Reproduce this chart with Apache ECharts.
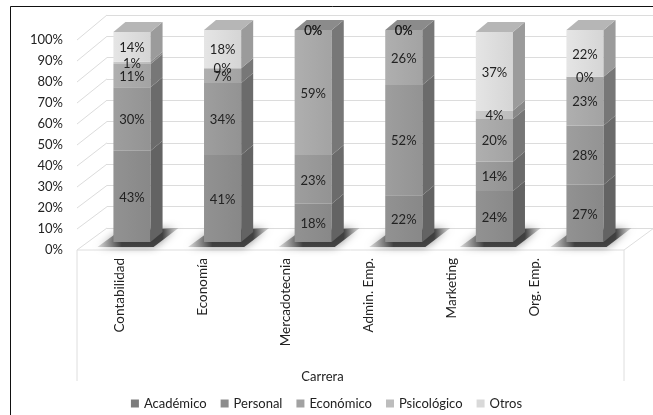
<!DOCTYPE html>
<html><head><meta charset="utf-8">
<script src="https://cdn.jsdelivr.net/npm/echarts@6/dist/echarts.min.js"></script>
<style>html,body{margin:0;padding:0;background:#fff}#c{width:653px;height:415px}</style>
</head><body><div id="c"></div>
<script>
const categories = ['Contabilidad', 'Economía', 'Mercadotecnia', 'Admin. Emp.', 'Marketing', 'Org. Emp.'];
const academico   = [43, 41, 18, 22, 24, 27];
const personal    = [30, 34, 23, 52, 14, 28];
const economico   = [11, 7, 59, 26, 20, 23];
const psicologico = [1, 0, 0, 0, 4, 0];
const otros       = [14, 18, 0, 0, 37, 22];
const seriesNames = ['Académico', 'Personal', 'Económico', 'Psicológico', 'Otros'];
const yTicks = [0, 10, 20, 30, 40, 50, 60, 70, 80, 90, 100];
const xTitle = 'Carrera';

const seriesValues = [academico, personal, economico, psicologico, otros];
const colors = ['#8e8e8e', '#999999', '#aaaaaa', '#c4c4c4', '#dedede'];
const legendColors = ['#7c7c7c', '#8c8c8c', '#a2a2a2', '#bdbdbd', '#d9d9d9'];
const FONT = 'Lato';
const DX = 12, DY = 10;

function shade(hex, f) {
  const n = parseInt(hex.slice(1), 16);
  const cl = x => Math.max(0, Math.min(255, Math.round(x)));
  const r = cl(((n >> 16) & 255) * f), g = cl(((n >> 8) & 255) * f), b = cl((n & 255) * f);
  return 'rgb(' + r + ',' + g + ',' + b + ')';
}

// stacked data [categoryIndex, base, value]
const stacked = seriesValues.map((vals, si) => vals.map((v, ci) => {
  let base = 0;
  for (let k = 0; k < si; k++) base += seriesValues[k][ci];
  return [ci, base, v];
}));
function topSeries(ci) {
  let t = 0;
  seriesValues.forEach((vals, si) => { if (vals[ci] > 0) t = si; });
  return t;
}

function makeRender(si) {
  return function (params, api) {
    const ci = api.value(0), base = api.value(1), val = api.value(2);
    const pB = api.coord([ci, base]);
    const pT = api.coord([ci, base + val]);
    const bw = api.size([1, 0])[0] * 0.41;
    const x0 = pB[0] - bw / 2, x1 = pB[0] + bw / 2;
    const yb = pB[1], yt = pT[1];
    const c = colors[si];
    const children = [];
    if (si === 0) {
      children.push({
        type: 'polygon',
        shape: { points: [[x0 - 16, yb + 5], [x0 + 6, yb - 11], [x1 + DX + 16, yb - 14], [x1 + 3, yb + 5]] },
        style: {
          fill: new echarts.graphic.LinearGradient(0, 0, 1, 0, [
            { offset: 0, color: 'rgba(120,120,120,0.25)' },
            { offset: 0.3, color: 'rgba(45,45,45,0.85)' },
            { offset: 0.8, color: 'rgba(45,45,45,0.85)' },
            { offset: 1, color: 'rgba(120,120,120,0.25)' }
          ]),
          shadowBlur: 8, shadowColor: 'rgba(0,0,0,0.5)'
        }
      });
    }
    if (val > 0) {
      children.push({
        type: 'rect', shape: { x: x0, y: yt, width: x1 - x0, height: yb - yt },
        style: {
          fill: new echarts.graphic.LinearGradient(0, 0, 1, 0, [
            { offset: 0, color: shade(c, 1.03) }, { offset: 1, color: shade(c, 0.96) }
          ])
        }
      });
      children.push({
        type: 'polygon',
        shape: { points: [[x1, yt], [x1 + DX, yt - DY], [x1 + DX, yb - DY], [x1, yb]] },
        style: { fill: shade(c, 0.7) }
      });
    }
    if (si === topSeries(ci)) {
      children.push({
        type: 'polygon',
        shape: { points: [[x0, yt], [x0 + DX, yt - DY], [x1 + DX, yt - DY], [x1, yt]] },
        style: { fill: shade(c, 0.82) }
      });
    }
    return { type: 'group', children: children };
  };
}

const labelData = [];
stacked.forEach(arr => arr.forEach(d => labelData.push([d[0], d[1] + d[2] / 2, d[2]])));

const series = seriesNames.map((name, si) => ({
  name: name, type: 'custom', xAxisIndex: 2, yAxisIndex: 2,
  itemStyle: { color: legendColors[si] },
  renderItem: makeRender(si), data: stacked[si], z: 3 + si
}));
series.push({
  name: 'labels', type: 'custom', xAxisIndex: 2, yAxisIndex: 2, z: 20, silent: true,
  renderItem: function (params, api) {
    const p = api.coord([api.value(0), api.value(1)]);
    return { type: 'text', style: { x: p[0], y: p[1] + 1, text: api.value(2) + '%', fill: '#222', font: '13px ' + FONT, align: 'center', verticalAlign: 'middle' } };
  },
  data: labelData
});
series.push({ type: 'custom', xAxisIndex: 3, yAxisIndex: 3, renderItem: () => null, data: [] });
series.push({ type: 'custom', xAxisIndex: 1, yAxisIndex: 1, renderItem: () => null, data: [] });
series.push({ type: 'custom', xAxisIndex: 0, yAxisIndex: 0, renderItem: () => null, data: [] });

const chart = echarts.init(document.getElementById('c'));
chart.setOption({
  animation: false,
  backgroundColor: '#fff',
  grid: [
    { left: 77, right: 5, top: 40, bottom: 165 },      // front edge (y labels)
    { left: 107, right: 0, top: 15, bottom: 187 },     // back wall gridlines
    { left: 86.7, right: 22.7, top: 30, bottom: 173 }, // bars (front faces)
    { left: 78.5, right: 76.5, top: 200, bottom: 163 } // category labels
  ],
  xAxis: [
    { gridIndex: 0, type: 'value', min: 0, max: 1, show: false },
    { gridIndex: 1, type: 'value', min: 0, max: 1, show: false },
    { gridIndex: 2, type: 'category', data: categories, show: false },
    {
      gridIndex: 3, type: 'category', data: categories,
      axisLine: { show: false }, axisTick: { show: false },
      axisLabel: { rotate: 90, margin: 6, color: '#222', fontSize: 13.5, fontFamily: FONT, interval: 0 },
      name: xTitle, nameLocation: 'middle', nameGap: 118,
      nameTextStyle: { color: '#222', fontSize: 13, fontFamily: FONT, padding: [0, 10, 0, 0] }
    }
  ],
  yAxis: [
    {
      gridIndex: 0, type: 'value', min: 0, max: 100, interval: 10,
      axisLine: { show: false }, axisTick: { show: false }, splitLine: { show: false },
      axisLabel: { formatter: v => v + '%', margin: 14, color: '#222', fontSize: 13, fontFamily: FONT }
    },
    {
      gridIndex: 1, type: 'value', min: 0, max: 100, interval: 10,
      axisLine: { show: false }, axisTick: { show: false }, axisLabel: { show: false },
      splitLine: { lineStyle: { color: '#dcdcdc', width: 1 } }
    },
    { gridIndex: 2, type: 'value', min: 0, max: 100, show: false },
    { gridIndex: 3, type: 'value', show: false }
  ],
  legend: {
    data: seriesNames, bottom: 0, left: 'center', icon: 'rect', itemWidth: 8, itemHeight: 8, itemGap: 14,
    textStyle: { color: '#222', fontSize: 13, fontFamily: FONT }
  },
  series: series
});

// decorations: side-wall connectors, floor outline, outer frame
const g = [];
yTicks.forEach(v => {
  const f = chart.convertToPixel({ gridIndex: 0 }, [0, v]);
  const b = chart.convertToPixel({ gridIndex: 1 }, [0, v]);
  g.push({ type: 'line', shape: { x1: f[0], y1: f[1], x2: b[0], y2: b[1] }, style: { stroke: '#dcdcdc', lineWidth: 1 }, silent: true });
});
const f0 = chart.convertToPixel({ gridIndex: 0 }, [0, 0]);
const b0 = chart.convertToPixel({ gridIndex: 1 }, [0, 0]);
const floorRight = 624;
g.push({ type: 'polyline', shape: { points: [[f0[0], 381], [f0[0], f0[1]], [floorRight, f0[1]], [floorRight, 381]] }, style: { stroke: '#dedede', fill: null, lineWidth: 1 }, silent: true });
g.push({ type: 'line', shape: { x1: floorRight, y1: f0[1], x2: floorRight + 30, y2: b0[1] }, style: { stroke: '#dedede', lineWidth: 1 }, silent: true });
g.push({ type: 'rect', shape: { x: 10.5, y: 6.5, width: 700, height: 500 }, style: { stroke: '#111', fill: null, lineWidth: 1 }, silent: true });
chart.setOption({ graphic: g });
</script>
</body></html>
